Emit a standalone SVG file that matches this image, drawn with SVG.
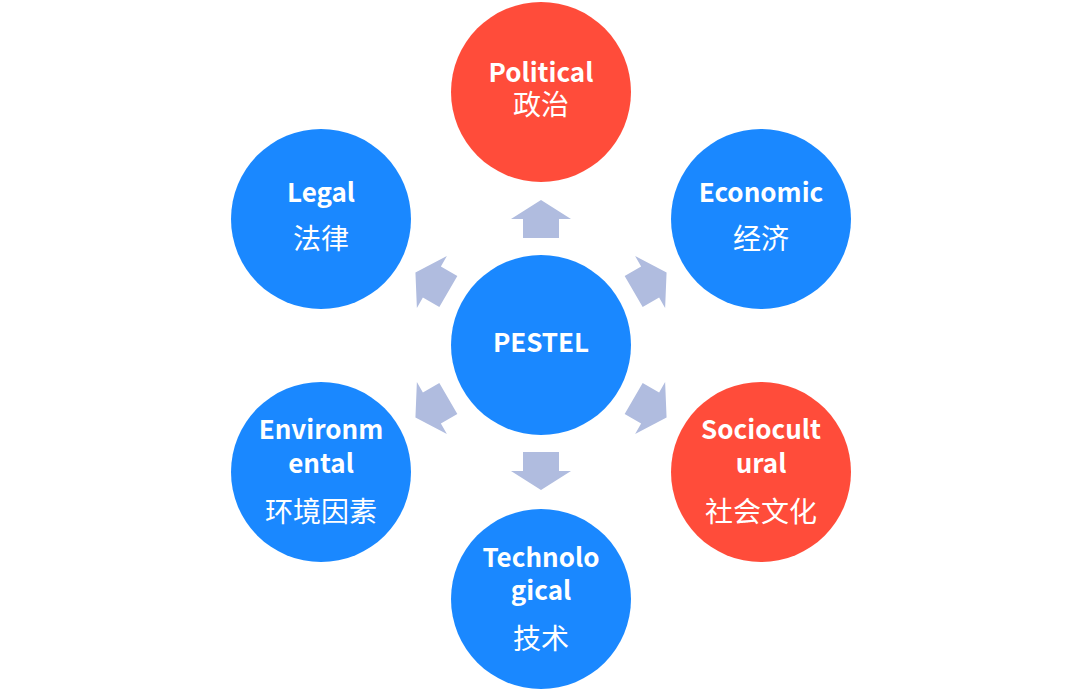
<svg xmlns="http://www.w3.org/2000/svg" xmlns:xlink="http://www.w3.org/1999/xlink" width="1080" height="690" viewBox="0 0 1080 690">
<style>
.blue{fill:#1a88ff}
.red{fill:#ff4c3a}
.en{font-family:"Noto Sans CJK SC","Noto Sans",sans-serif;font-weight:bold;font-size:26px;fill:#fff;text-anchor:middle}
.zh{font-family:"Noto Sans CJK SC",sans-serif;font-size:28px;fill:#fff;text-anchor:middle}
.arr{fill:#b0bcdf}
</style>
<defs>
<path id="arrow" class="arr" d="M0,-145 L30,-126 L18,-126 L18,-107 L-18,-107 L-18,-126 L-30,-126 Z"/>
</defs>
<rect width="1080" height="690" fill="#fff"/>
<g id="connectors">
<use xlink:href="#arrow" href="#arrow" transform="translate(541,345) rotate(0)"/>
<use xlink:href="#arrow" href="#arrow" transform="translate(541,345) rotate(60)"/>
<use xlink:href="#arrow" href="#arrow" transform="translate(541,345) rotate(120)"/>
<use xlink:href="#arrow" href="#arrow" transform="translate(541,345) rotate(180)"/>
<use xlink:href="#arrow" href="#arrow" transform="translate(541,345) rotate(240)"/>
<use xlink:href="#arrow" href="#arrow" transform="translate(541,345) rotate(300)"/>
</g>
<g id="pestel">
<circle class="blue" cx="541" cy="345" r="90"/>
<text class="en" x="541" y="352">PESTEL</text>
</g>
<g id="political">
<circle class="red" cx="541" cy="92" r="90"/>
<text class="en" x="541" y="82">Political</text>
<text class="zh" x="541" y="115">政治</text>
</g>
<g id="legal">
<circle class="blue" cx="321" cy="219" r="90"/>
<text class="en" x="321" y="202">Legal</text>
<text class="zh" x="321" y="249">法律</text>
</g>
<g id="economic">
<circle class="blue" cx="761" cy="219" r="90"/>
<text class="en" x="761" y="202">Economic</text>
<text class="zh" x="761" y="249">经济</text>
</g>
<g id="environmental">
<circle class="blue" cx="321" cy="472" r="90"/>
<text class="en" x="321" y="439">Environm</text>
<text class="en" x="321" y="473">ental</text>
<text class="zh" x="321" y="522">环境因素</text>
</g>
<g id="sociocultural">
<circle class="red" cx="761" cy="472" r="90"/>
<text class="en" x="761" y="439">Sociocult</text>
<text class="en" x="761" y="473">ural</text>
<text class="zh" x="761" y="522">社会文化</text>
</g>
<g id="technological">
<circle class="blue" cx="541" cy="599" r="90"/>
<text class="en" x="541" y="567">Technolo</text>
<text class="en" x="541" y="600">gical</text>
<text class="zh" x="541" y="649">技术</text>
</g>
</svg>
